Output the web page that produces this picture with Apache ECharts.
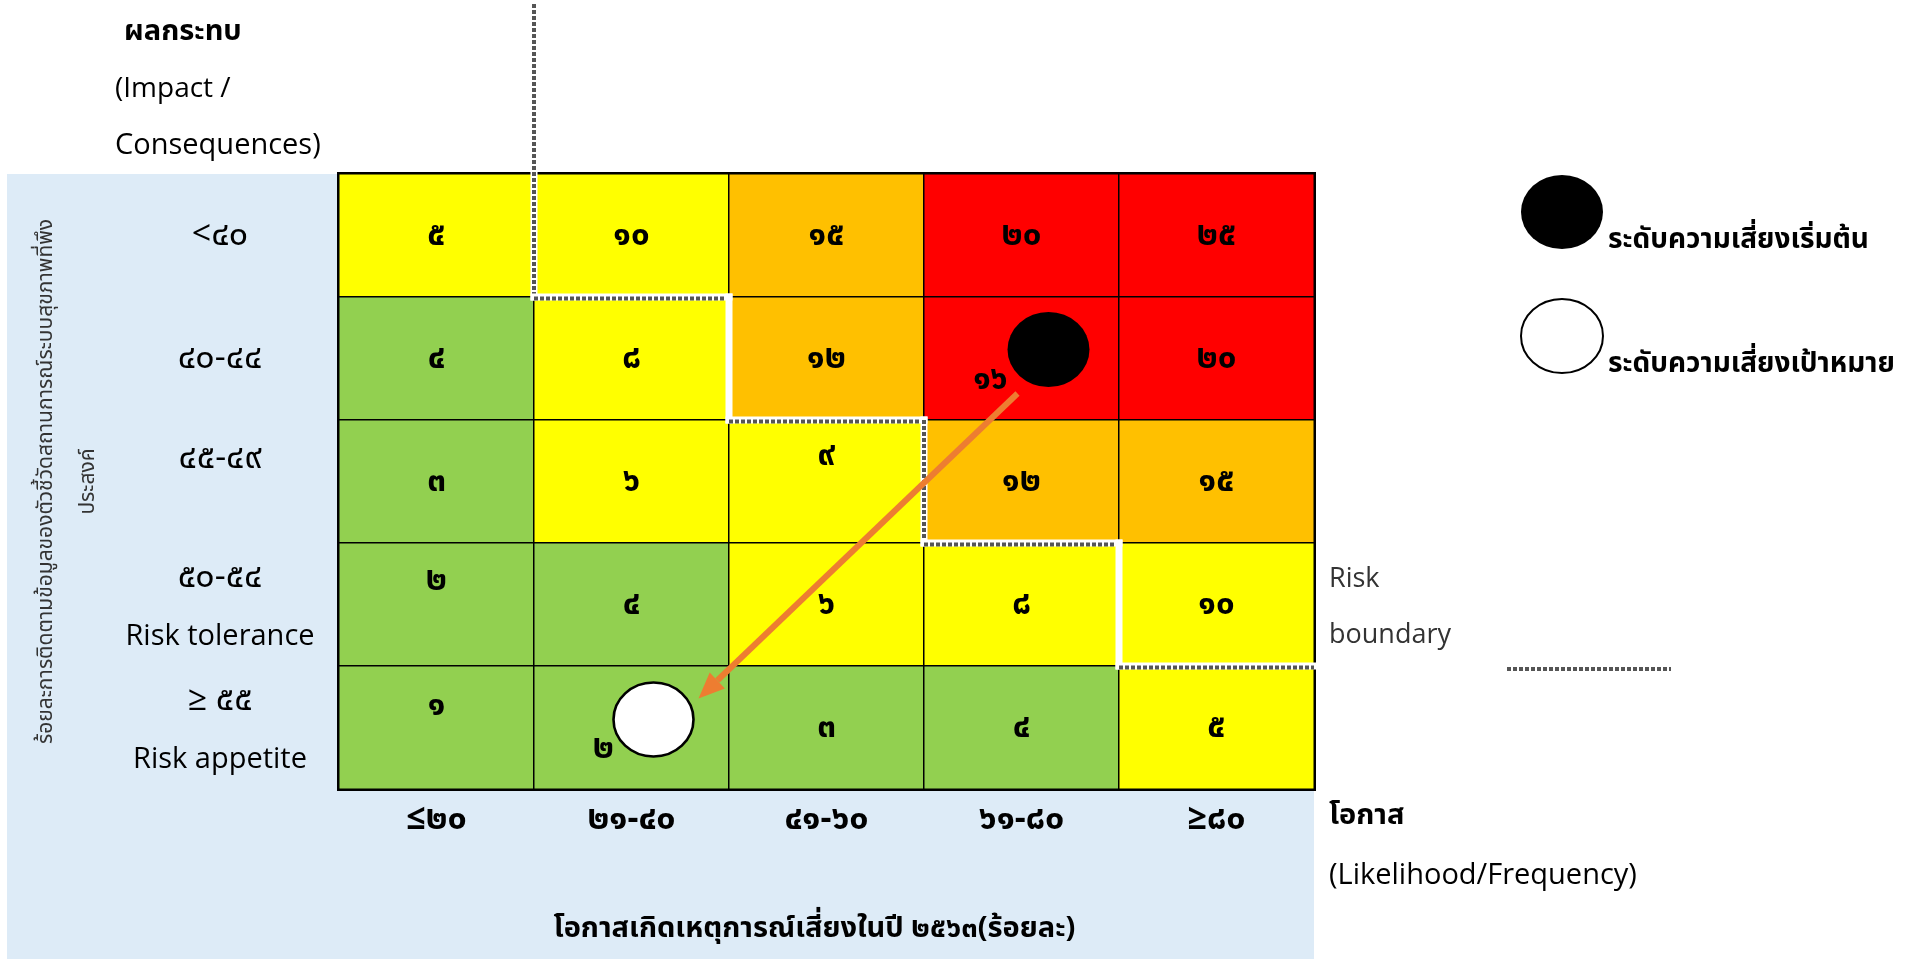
<!DOCTYPE html>
<html>
<head>
<meta charset="utf-8">
<script src="https://cdn.jsdelivr.net/npm/echarts@6/dist/echarts.min.js"></script>
<style>
  html, body { margin: 0; padding: 0; background: #ffffff; }
  #chart { width: 1912px; height: 960px; }
</style>
</head>
<body>
<div id="chart"></div>
<script>
// Likelihood bands (columns, left to right)
const likelihoodLabels = ['≤๒๐', '๒๑-๔๐', '๔๑-๖๐', '๖๑-๘๐', '≥๘๐'];
// Impact bands (rows, top to bottom)
const impactLabels = ['<๔๐', '๔๐-๔๔', '๔๕-๔๙', '๕๐-๕๔', '≥ ๕๕'];
const impactNotes = ['', '', '', 'Risk tolerance', 'Risk appetite'];
// Risk score of every cell, one row per impact band
const riskScores = [
  [5, 10, 15, 20, 25],
  [4, 8, 12, 16, 20],
  [3, 6, 9, 12, 15],
  [2, 4, 6, 8, 10],
  [1, 2, 3, 4, 5]
];
// Risk level positions as [likelihood index, impact index]
const initialRisk = [3, 1];
const targetRisk = [1, 4];
// Cells scoring at least this much lie inside the risk boundary
const boundaryScore = 10;

const initialName = 'ระดับความเสี่ยงเริ่มต้น';
const targetName = 'ระดับความเสี่ยงเป้าหมาย';

// colour bands: highest score of the band and its fill
const scoreBands = [
  [4, '#92D050'],
  [10, '#FFFF00'],
  [15, '#FFC000'],
  [Infinity, '#FF0000']
];
const scoreColor = v => scoreBands.find(b => v <= b[0])[1];

const FONT = "'Open Sans', 'Noto Sans Thai', 'Noto Sans', 'DejaVu Sans', sans-serif";
const THAI_DIGITS = '๐๑๒๓๔๕๖๗๘๙';
const toThai = n => String(n).replace(/[0-9]/g, d => THAI_DIGITS[+d]);

// label nudges (px) for cells whose number sits off-centre
const labelNudge = {
  '2,2': [0, -26],
  '0,3': [0, -24],
  '0,4': [0, -22],
  '3,1': [-31, 21],
  '1,4': [-28, 21]
};

const cells = [];
riskScores.forEach((row, r) => row.forEach((v, c) => {
  const item = { value: [c, r, v], itemStyle: { color: scoreColor(v) } };
  const nudge = labelNudge[c + ',' + r];
  if (nudge) item.label = { offset: nudge };
  cells.push(item);
}));

const ellipse = 'path://M0,50 A50,50 0 1,1 100,50 A50,50 0 1,1 0,50 Z';
const initialOffset = [27, -9];
const targetOffset = [22, -8];

const chart = echarts.init(document.getElementById('chart'));

function cellGeom(api, c, r) {
  const p = api.coord([c, r]);
  const s = api.size([1, 1]);
  return { cx: p[0], cy: p[1], w: s[0], h: s[1] };
}

// staircase line around the cells at or above boundaryScore
function renderBoundary(params, api) {
  const g = cellGeom(api, 0, 0);
  const left0 = g.cx - g.w / 2;
  const top0 = g.cy - g.h / 2;
  const xEdge = i => left0 + i * g.w;
  const yBottom = r => top0 + (r + 1) * g.h;
  const firstIn = riskScores.map(row => {
    const i = row.findIndex(v => v >= boundaryScore);
    return i < 0 ? row.length : i;
  });
  const pts = [[xEdge(firstIn[0]), 4]];
  for (let r = 0; r < riskScores.length; r++) {
    pts.push([xEdge(firstIn[r]), yBottom(r)]);
    const next = r + 1 < firstIn.length ? firstIn[r + 1] : likelihoodLabels.length;
    if (next !== firstIn[r]) pts.push([xEdge(next), yBottom(r)]);
    if (next >= likelihoodLabels.length) break;
  }
  const children = [];
  let vIndex = 0;
  for (let i = 0; i < pts.length - 1; i++) {
    const a = pts[i], b = pts[i + 1];
    const vertical = Math.abs(a[0] - b[0]) < 0.5;
    const shape = { x1: a[0], y1: a[1], x2: b[0], y2: b[1] };
    children.push({ type: 'line', shape, style: { stroke: '#ffffff', lineWidth: 7, lineCap: 'square' } });
    const hatched = !vertical || vIndex % 2 === 0;
    if (vertical) vIndex++;
    if (hatched) {
      const off = vertical
        ? { x1: a[0], x2: b[0], y1: a[1], y2: b[1] }
        : { x1: a[0], x2: b[0], y1: a[1] + 1.5, y2: b[1] + 1.5 };
      children.push({ type: 'line', shape: off, style: { stroke: '#555555', lineWidth: 4, lineDash: [4, 2] } });
    }
  }
  return { type: 'group', children };
}

// arrow from the initial risk level to the target risk level
function renderArrow(params, api) {
  const a = cellGeom(api, initialRisk[0], initialRisk[1]);
  const b = cellGeom(api, targetRisk[0], targetRisk[1]);
  const x1 = a.cx + initialOffset[0] - 31, y1 = a.cy + initialOffset[1] + 44;
  const x2 = b.cx + targetOffset[0] + 45, y2 = b.cy + targetOffset[1] - 21;
  const ang = Math.atan2(y2 - y1, x2 - x1);
  const headLen = 26, headW = 11;
  const bx = x2 - headLen * Math.cos(ang), by = y2 - headLen * Math.sin(ang);
  const nx = -Math.sin(ang), ny = Math.cos(ang);
  return {
    type: 'group',
    children: [
      { type: 'line', shape: { x1, y1, x2: bx, y2: by }, style: { stroke: '#ED7D31', lineWidth: 6 } },
      { type: 'polygon', shape: { points: [[x2, y2], [bx + nx * headW, by + ny * headW], [bx - nx * headW, by - ny * headW]] }, style: { fill: '#ED7D31' } }
    ]
  };
}

const txt = (x, y, text, extra) => Object.assign({
  type: 'text', x, y, z: 10,
  style: Object.assign({ text, fill: '#000', font: '28px ' + FONT, verticalAlign: 'middle' }, extra || {})
});

chart.setOption({
  backgroundColor: '#ffffff',
  animation: false,
  textStyle: { fontFamily: FONT },
  grid: {
    left: 339, top: 174, width: 975, height: 615,
    outerBoundsMode: 'none', containLabel: false,
    show: true, borderColor: '#000', borderWidth: 4, backgroundColor: 'transparent'
  },
  xAxis: {
    type: 'category',
    data: likelihoodLabels,
    axisLine: { show: false }, axisTick: { show: false }, splitLine: { show: false },
    axisLabel: { fontSize: 34, fontWeight: 'bold', color: '#000', margin: 30, verticalAlign: 'middle', fontFamily: FONT },
    name: 'โอกาสเกิดเหตุการณ์เสี่ยงในปี ๒๕๖๓(ร้อยละ)',
    nameLocation: 'middle', nameGap: 140,
    nameTextStyle: { fontSize: 29, fontWeight: 'bold', color: '#000', fontFamily: FONT, verticalAlign: 'middle', padding: [0, 24, 0, 0] }
  },
  yAxis: {
    type: 'category',
    inverse: true,
    data: impactLabels,
    axisLine: { show: false }, axisTick: { show: false }, splitLine: { show: false },
    axisLabel: {
      align: 'center', margin: 119, color: '#000', fontFamily: FONT,
      formatter: (v, i) => impactNotes[i]
        ? '{n2|' + v + '}\n{e|' + impactNotes[i] + '}'
        : (i === 2 ? '{lift|' + v + '}' : '{n|' + v + '}'),
      rich: {
        n: { fontSize: 34, lineHeight: 55, color: '#000', fontFamily: FONT },
        n2: { fontSize: 34, lineHeight: 55, color: '#000', fontFamily: FONT },
        e: { fontSize: 29, lineHeight: 55, color: '#000', padding: [10, 0, 0, 0], fontFamily: FONT },
        lift: { fontSize: 34, lineHeight: 55, color: '#000', padding: [0, 0, 46, 0], fontFamily: FONT }
      }
    },
    name: 'ร้อยละการติดตามข้อมูลของตัวชี้วัดสถานการณ์ระบบสุขภาพที่พึง\nประสงค์',
    nameLocation: 'middle', nameRotate: 90, nameGap: 230,
    nameTextStyle: { fontSize: 21, lineHeight: 42, color: '#333', fontFamily: FONT }
  },
  legend: {
    orient: 'vertical', left: 1515, top: 170,
    itemWidth: 82, itemHeight: 74, itemGap: 44,
    symbolKeepAspect: false,
    selectedMode: false,
    formatter: '{t|{name}}',
    textStyle: {
      color: '#000', fontFamily: FONT,
      rich: { t: { fontSize: 28, fontWeight: 'bold', color: '#000', padding: [56, 0, 0, 0], fontFamily: FONT } }
    },
    data: [initialName, targetName]
  },
  series: [
    {
      type: 'heatmap',
      data: cells,
      z: 2,
      itemStyle: { borderColor: '#000', borderWidth: 1.5 },
      label: { show: true, fontSize: 33, fontWeight: 'bold', color: '#000', fontFamily: FONT, formatter: p => toThai(p.value[2]) },
      emphasis: { disabled: true }
    },
    {
      type: 'custom', name: 'boundary', z: 3, clip: false,
      data: [[0, 0]], renderItem: renderBoundary, silent: true
    },
    {
      type: 'scatter', name: initialName, z: 4,
      data: [initialRisk], symbol: ellipse, symbolSize: [82, 75], symbolOffset: initialOffset,
      itemStyle: { color: '#000', opacity: 1 }
    },
    {
      type: 'scatter', name: targetName, z: 4,
      data: [targetRisk], symbol: ellipse, symbolSize: [80, 74], symbolOffset: targetOffset,
      itemStyle: { color: '#fff', borderColor: '#000', borderWidth: 2.5, opacity: 1 }
    },
    {
      type: 'custom', name: 'arrow', z: 5, clip: false,
      data: [[0, 0]], renderItem: renderArrow, silent: true
    }
  ],
  graphic: {
    elements: [
      { type: 'rect', z: -10, shape: { x: 7, y: 174, width: 1307, height: 785 }, style: { fill: '#DDEBF7' } },
      txt(124, 32, 'ผลกระทบ', { font: 'bold 29px ' + FONT }),
      txt(115, 89, '(Impact /'),
      txt(115, 146, 'Consequences)', { font: '29px ' + FONT }),
      txt(1329, 579, 'Risk', { font: '27px ' + FONT, fill: '#333' }),
      txt(1329, 635, 'boundary', { font: '27px ' + FONT, fill: '#333' }),
      { type: 'line', z: 10, shape: { x1: 1507, y1: 669, x2: 1671, y2: 669 }, style: { stroke: '#555555', lineWidth: 4, lineDash: [4, 2] } },
      txt(1329, 816, 'โอกาส', { font: 'bold 29px ' + FONT }),
      txt(1329, 876, '(Likelihood/Frequency)', { font: '29px ' + FONT })
    ]
  }
});
</script>
</body>
</html>
